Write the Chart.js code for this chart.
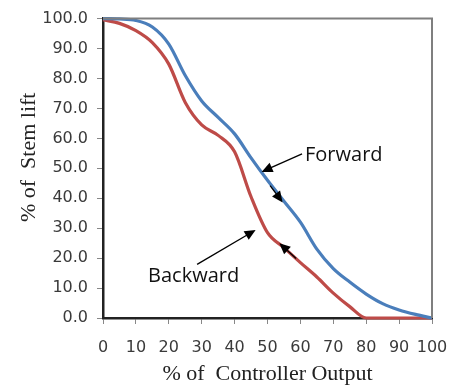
<!DOCTYPE html>
<html>
<head>
<meta charset="utf-8">
<script src="https://cdn.jsdelivr.net/npm/chart.js@4.4.0/dist/chart.umd.min.js"></script>
<style>
  html, body { margin: 0; padding: 0; background: #fff; }
</style>
</head>
<body>
<canvas id="valveChart" width="453" height="387"></canvas>
<script>
// --------- Data ---------
const controllerOutput = [0, 5, 10, 15, 20, 25, 30, 35, 40, 45, 50, 55, 60, 65, 70, 75, 80, 85, 90, 95, 100];
const forwardLift  = [100, 99.9, 99.4, 97.2, 91.5, 81.0, 72.5, 67.0, 61.5, 53.5, 46.0, 39.0, 32.0, 23.0, 16.5, 12.0, 8.0, 4.8, 2.7, 1.2, 0];
const backwardLift = [99.6, 98.4, 96.0, 92.0, 84.8, 72.0, 64.5, 61.0, 55.5, 40.5, 28.5, 23.5, 18.5, 13.7, 8.3, 3.8, 0, 0, 0, 0, 0];
const axisTicks = [0, 10, 20, 30, 40, 50, 60, 70, 80, 90, 100];

// labels and arrows, in data units: [fromX, fromY, toX, toY]
const labels = [
  { text: "Forward", x: 61.4, y: 54.3 },
  { text: "Backward", x: 13.7, y: 14.0 }
];
const arrows = [
  [60.5, 54.8, 48.2, 48.8],
  [50.8, 44.2, 54.6, 38.6],
  [28.6, 17.9, 46.4, 29.4],
  [58.7, 19.9, 53.6, 25.0]
];

const toXY = (ys) => controllerOutput.map((x, i) => ({ x: x, y: ys[i] }));

// --------- Annotation plugin ---------
const annotate = {
  id: "annotate",
  afterDraw(chart) {
    const { ctx, chartArea: a, scales: { x, y } } = chart;
    ctx.save();
    // top / right frame
    ctx.strokeStyle = "#7f7f7f";
    ctx.lineWidth = 2;
    ctx.beginPath();
    ctx.moveTo(a.left, a.top);
    ctx.lineTo(a.right, a.top);
    ctx.lineTo(a.right, a.bottom);
    ctx.stroke();

    ctx.fillStyle = "#111";
    ctx.font = "20px 'Open Sans', sans-serif";
    ctx.textBaseline = "middle";
    labels.forEach(l => ctx.fillText(l.text, x.getPixelForValue(l.x), y.getPixelForValue(l.y)));

    ctx.strokeStyle = "#000";
    ctx.fillStyle = "#000";
    ctx.lineWidth = 1.3;
    arrows.forEach(([x1, y1, x2, y2]) => {
      const px1 = x.getPixelForValue(x1), py1 = y.getPixelForValue(y1);
      const px2 = x.getPixelForValue(x2), py2 = y.getPixelForValue(y2);
      const ang = Math.atan2(py2 - py1, px2 - px1);
      ctx.beginPath();
      ctx.moveTo(px1, py1);
      ctx.lineTo(px2 - 6 * Math.cos(ang), py2 - 6 * Math.sin(ang));
      ctx.stroke();
      ctx.beginPath();
      ctx.moveTo(px2, py2);
      ctx.lineTo(px2 - 11 * Math.cos(ang) + 5 * Math.sin(ang), py2 - 11 * Math.sin(ang) - 5 * Math.cos(ang));
      ctx.lineTo(px2 - 11 * Math.cos(ang) - 5 * Math.sin(ang), py2 - 11 * Math.sin(ang) + 5 * Math.cos(ang));
      ctx.closePath();
      ctx.fill();
    });
    ctx.restore();
  }
};

const tickFont = { family: "'DejaVu Sans', sans-serif", size: 16 };
const titleFont = { family: "'Liberation Serif', serif", size: 22 };

new Chart(document.getElementById("valveChart"), {
  type: "line",
  data: {
    datasets: [
      {
        label: "Forward",
        data: toXY(forwardLift),
        borderColor: "#4a7ebb",
        borderWidth: 3.2,
        pointRadius: 0,
        cubicInterpolationMode: "monotone",
        clip: false
      },
      {
        label: "Backward",
        data: toXY(backwardLift),
        borderColor: "#be4b48",
        borderWidth: 3.2,
        pointRadius: 0,
        cubicInterpolationMode: "monotone",
        clip: false
      }
    ]
  },
  options: {
    responsive: false,
    animation: false,
    layout: { padding: { top: 17, right: 21, left: 0, bottom: 0 } },
    plugins: { legend: { display: false }, tooltip: { enabled: false } },
    scales: {
      x: {
        type: "linear",
        min: 0,
        max: 100,
        afterFit(scale) {
          scale.height = 69;
          scale.paddingLeft = 0;
          scale.paddingRight = 0;
        },
        afterBuildTicks(scale) { scale.ticks = axisTicks.map(v => ({ value: v })); },
        border: { color: "#222", width: 2.5 },
        grid: { drawOnChartArea: false, tickLength: 6, color: "#888" },
        ticks: { font: tickFont, color: "#3a3a3a", padding: 14, maxRotation: 0, autoSkip: false },
        title: { display: true, text: "% of  Controller Output", font: titleFont, color: "#222", padding: { top: 0, bottom: 0 } }
      },
      y: {
        min: 0,
        max: 100,
        afterFit(scale) { scale.width = 103; },
        afterBuildTicks(scale) { scale.ticks = axisTicks.map(v => ({ value: v })); },
        border: { color: "#222", width: 2.5 },
        grid: { drawOnChartArea: false, tickLength: 6, color: "#888" },
        ticks: { font: tickFont, color: "#3a3a3a", padding: 9, autoSkip: false, callback: v => v.toFixed(1) },
        title: { display: true, text: "    % of  Stem lift", font: titleFont, color: "#222", padding: { top: 16, bottom: 0 } }
      }
    }
  },
  plugins: [annotate]
});
</script>
</body>
</html>
